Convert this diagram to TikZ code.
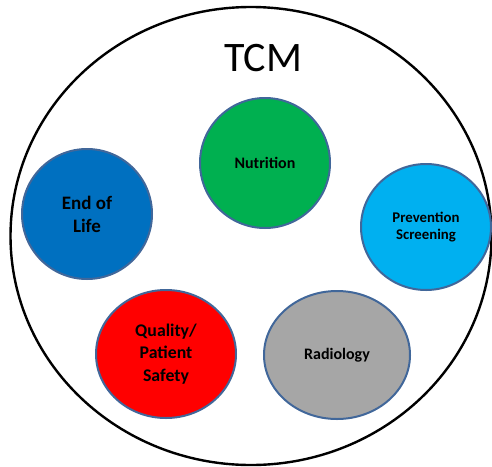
\documentclass[tikz,border=0pt]{standalone}
\usepackage{fontspec}
\setmainfont{Carlito}
\usetikzlibrary{shapes.geometric}
\definecolor{rim}{HTML}{41679A}
\definecolor{cgreen}{HTML}{00B050}
\definecolor{cblue}{HTML}{0070C0}
\definecolor{clight}{HTML}{00B0F0}
\definecolor{cred}{HTML}{FF0000}
\definecolor{cgray}{HTML}{A6A6A6}
\begin{document}
\begin{tikzpicture}[x=1pt,y=-1pt,
  topic/.style={ellipse,draw=rim,line width=2pt,inner sep=0pt,align=center}]
\useasboundingbox (0,0) rectangle (492,466);
\node[draw=black,line width=2.4pt,ellipse,minimum width=481pt,minimum height=458pt,inner sep=0pt] (outer) at (251,236) {};
\node[font=\fontsize{42}{42}\selectfont] (tcm) at (263,58) {TCM};
\node[topic,fill=cgreen,minimum width=130pt,minimum height=130pt,font=\bfseries\fontsize{16}{18}\selectfont] (nut) at (265,163) {Nutrition};
\node[topic,fill=cblue,minimum width=130pt,minimum height=130pt,font=\bfseries\fontsize{19}{23}\selectfont] (eol) at (87,214) {End of\\Life};
\node[topic,fill=clight,minimum width=130pt,minimum height=126pt,font=\bfseries\fontsize{14.8}{17}\selectfont] (prev) at (426,227) {Prevention\\Screening};
\node[topic,fill=cred,minimum width=140pt,minimum height=128pt,font=\bfseries\fontsize{17.8}{22.5}\selectfont] (qual) at (166,354) {Quality/\\Patient\\Safety};
\node[topic,fill=cgray,minimum width=146pt,minimum height=128pt,font=\bfseries\fontsize{16}{18}\selectfont] (rad) at (337,355) {Radiology};
\end{tikzpicture}
\end{document}
